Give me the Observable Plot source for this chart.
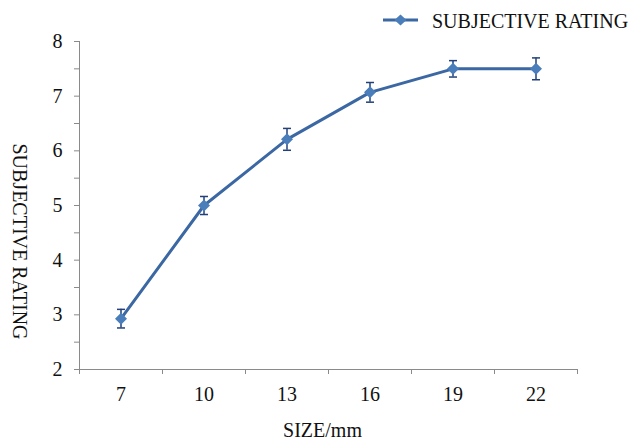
<!DOCTYPE html>
<html><head><meta charset="utf-8">
<script src="https://cdn.jsdelivr.net/npm/d3@7"></script>
<script src="https://cdn.jsdelivr.net/npm/@observablehq/plot@0.6"></script>
<style>
body{margin:0;background:#fff;width:637px;height:441px;overflow:hidden;font-family:'Liberation Serif','DejaVu Serif',serif;}
#legend{height:31px;}
#legend svg{display:block;}
</style></head><body>
<div id="legend"></div>
<div id="chart"></div>
<script>
const sizes = [7, 10, 13, 16, 19, 22];
const ratings = [2.93, 5.0, 6.21, 7.07, 7.5, 7.5];
const errors = [0.17, 0.165, 0.2, 0.18, 0.15, 0.2];
const yTickLabels = [2, 3, 4, 5, 6, 7, 8];
const seriesName = "SUBJECTIVE RATING";
const xLabel = "SIZE/mm";
const yLabel = "SUBJECTIVE RATING";

const lineColor = "#3b67a3", markerColor = "#4a7ebb", errColor = "#22417a", axisColor = "#8a8a8a", textColor = "#111";
const font = "'Liberation Serif', 'DejaVu Serif', serif";
const fs = 20;

const data = sizes.map((s, i) => ({size: s, rating: ratings[i], lo: ratings[i] - errors[i], hi: ratings[i] + errors[i]}));
const step = sizes[1] - sizes[0];
const xDomain = [sizes[0] - step / 2, sizes[sizes.length - 1] + step / 2];
const boundaries = d3.range(xDomain[0], xDomain[1] + 1e-9, step);
const yDomain = [d3.min(yTickLabels), d3.max(yTickLabels)];
const minorY = d3.range(yDomain[0], yDomain[1] + 1e-9, 0.5);
const capSymbol = {draw(ctx, size) { const w = Math.sqrt(size / Math.PI); ctx.moveTo(-w, 0); ctx.lineTo(w, 0); }};

// legend (HTML svg above chart)
const leg = d3.select("#legend").append("svg").attr("width", 637).attr("height", 31);
leg.append("line").attr("x1", 383).attr("x2", 418).attr("y1", 20).attr("y2", 20).attr("stroke", lineColor).attr("stroke-width", 3);
leg.append("path").attr("d", "M400.5,14.5L406.5,20L400.5,25.5L394.5,20Z").attr("fill", markerColor);
leg.append("text").attr("x", 432).attr("y", 28).style("font-family", font).style("font-size", fs + "px").attr("fill", textColor).text(seriesName);

const chart = Plot.plot({
  width: 637, height: 410,
  marginLeft: 79, marginRight: 60, marginTop: 10, marginBottom: 72,
  style: {fontFamily: font, fontSize: fs + "px", background: "#fff", overflow: "visible"},
  x: {type: "linear", domain: xDomain},
  y: {type: "linear", domain: yDomain},
  marks: [
    Plot.axisY({ticks: minorY, tickFormat: d => Number.isInteger(d) ? String(d) : "", tickSize: 5, tickPadding: 12,
      stroke: axisColor, fill: textColor, fontSize: fs, label: null}),
    Plot.axisX({ticks: boundaries, tickFormat: () => "", tickSize: 5, stroke: axisColor, label: null}),
    Plot.axisX({ticks: sizes, tickFormat: d => String(d), tickSize: 0, tickPadding: 17, fill: textColor, fontSize: fs, label: null}),
    Plot.ruleX([xDomain[0]], {y1: yDomain[0], y2: yDomain[1], stroke: axisColor}),
    Plot.ruleY([yDomain[0]], {stroke: axisColor}),
    Plot.text([yLabel], {frameAnchor: "left", textAnchor: "middle", lineAnchor: "middle", rotate: 90, dx: -60, dy: 36, fontSize: fs, fill: textColor, text: d => d}),
    Plot.text([xLabel], {frameAnchor: "bottom", textAnchor: "middle", lineAnchor: "middle", dx: -6, dy: 61, fontSize: fs, fill: textColor, text: d => d}),
    Plot.ruleX(data, {x: "size", y1: "lo", y2: "hi", stroke: errColor, strokeWidth: 1.5}),
    Plot.dot(data, {x: "size", y: "lo", symbol: capSymbol, r: 4, stroke: errColor, strokeWidth: 1.5, fill: "none"}),
    Plot.dot(data, {x: "size", y: "hi", symbol: capSymbol, r: 4, stroke: errColor, strokeWidth: 1.5, fill: "none"}),
    Plot.line(data, {x: "size", y: "rating", stroke: lineColor, strokeWidth: 3, curve: "linear"}),
    Plot.dot(data, {x: "size", y: "rating", symbol: "diamond2", r: 5.4, fill: markerColor, stroke: "none"})
  ]
});
document.getElementById("chart").appendChild(chart);
</script>
</body></html>
